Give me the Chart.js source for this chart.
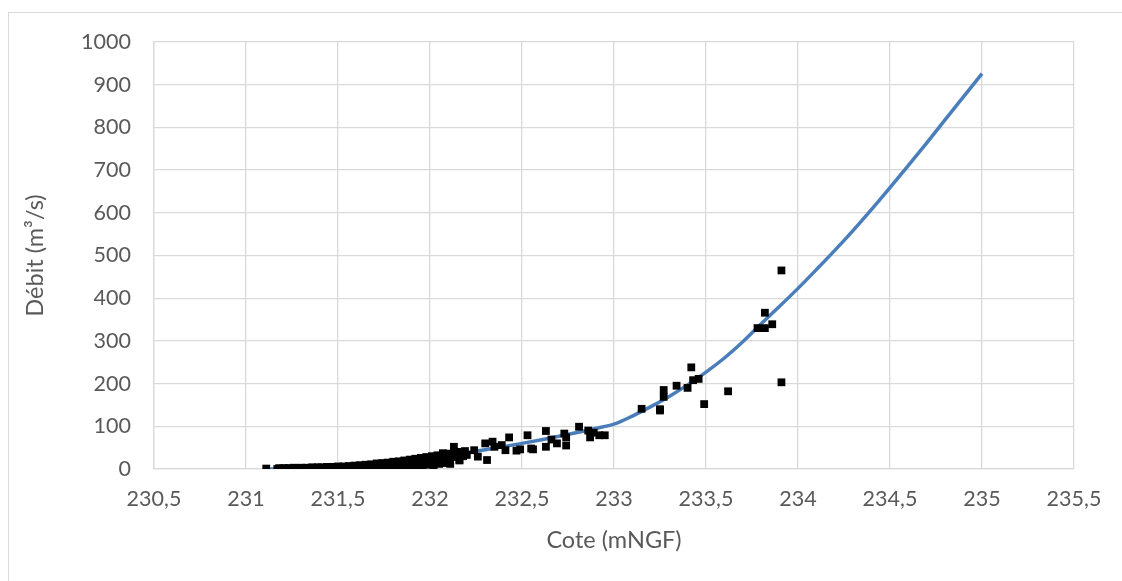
<!DOCTYPE html>
<html>
<head>
<meta charset="utf-8">
<script src="https://cdn.jsdelivr.net/npm/chart.js@4"></script>
<style>
  html, body { margin: 0; padding: 0; background: #fff; overflow: hidden; }
  #frame { position: absolute; left: 8px; top: 12px; width: 1300px; height: 700px; border: 1px solid #d9d9d9; }
  #wrap { position: absolute; left: 0; top: 0; width: 1122px; height: 581px; }
</style>
</head>
<body>
<div id="frame"></div>
<div id="wrap"><canvas id="myChart" width="1122" height="581"></canvas></div>
<script>
// fitted rating curve (cote -> debit)
const curveCote = [231.13, 231.2, 231.3, 231.4, 231.5, 231.6, 231.7, 231.8, 231.9, 232.0,
  232.1, 232.2, 232.3, 232.4, 232.5, 232.6, 232.7, 232.8, 232.9, 233.0,
  233.1, 233.2, 233.3, 233.4, 233.5, 233.6, 233.7, 233.8, 233.9, 234.0,
  234.1, 234.2, 234.3, 234.4, 234.5, 234.6, 234.7, 234.8, 234.9, 235.0];
const curveDebit = [0, 0.5, 1.7, 3.6, 6.1, 9.1, 12.7, 16.9, 21.5, 26.7,
  32.4, 38.6, 45.2, 52.4, 60, 68.1, 76.6, 85.5, 94.9, 105,
  124, 146, 170, 197, 227, 260, 298, 340, 381, 423,
  467, 512, 559, 608, 659, 711, 764, 818, 872, 926];

// measured points - dense low-water band
const bandCote = [231.11,
  231.17, 231.18, 231.19, 231.20, 231.21, 231.22, 231.23, 231.24, 231.25, 231.26,
  231.27, 231.28, 231.29, 231.30, 231.31, 231.32, 231.33, 231.34, 231.35, 231.36,
  231.37, 231.38, 231.39, 231.40, 231.41, 231.42, 231.43, 231.44, 231.45, 231.46,
  231.47, 231.48, 231.49, 231.50, 231.51, 231.52, 231.53, 231.54, 231.55, 231.56,
  231.57, 231.58, 231.59, 231.60, 231.61, 231.62, 231.63, 231.64, 231.65, 231.66,
  231.67, 231.68, 231.69, 231.70, 231.71, 231.72, 231.73, 231.74, 231.75, 231.76,
  231.77, 231.78, 231.79, 231.80, 231.81, 231.82, 231.83, 231.84, 231.85, 231.86,
  231.87, 231.88, 231.89, 231.90, 231.91, 231.92, 231.93, 231.94, 231.95, 231.96,
  231.97, 231.98, 231.99, 232.00, 232.01, 232.02, 232.03, 232.04, 232.05, 232.06,
  232.07, 232.08, 232.09, 232.10, 232.11, 232.12, 232.14, 232.16, 232.18, 232.19];
const bandDebit = [1,
  0, 2, 0, 1, 2, 0, 2, 1, 0, 3,
  1, 0, 2, 3, 0, 2, 3, 1, 0, 4,
  2, 0, 4, 1, 4, 0, 2, 5, 1, 3,
  5, 0, 3, 6, 1, 4, 6, 0, 3, 7,
  2, 5, 8, 1, 5, 9, 3, 6, 10, 1,
  6, 11, 3, 8, 13, 2, 8, 14, 4, 10,
  15, 3, 10, 17, 5, 12, 18, 3, 11, 20,
  6, 14, 22, 5, 15, 24, 8, 17, 26, 7,
  18, 28, 10, 20, 30, 9, 22, 32, 12, 24,
  35, 14, 26, 36, 12, 28, 38, 20, 30, 42];

// measured points - scattered upper part
const obsCote = [232.07, 232.1, 232.13, 232.15, 232.16, 232.2, 232.24, 232.26, 232.3, 232.31,
  232.34, 232.35, 232.39, 232.41, 232.43, 232.47, 232.49, 232.53, 232.55,
  232.56, 232.63, 232.63, 232.66, 232.69, 232.73, 232.74, 232.74, 232.81, 232.86,
  232.87, 232.89, 232.92, 232.95,
  233.15, 233.25, 233.25, 233.27, 233.27, 233.34, 233.4, 233.42, 233.43, 233.46,
  233.49, 233.62, 233.78, 233.82, 233.82, 233.86, 233.91, 233.91];
const obsDebit = [37, 29, 52, 40, 21, 33, 44, 29, 60, 21,
  64, 52, 56, 44, 74, 43, 46, 79, 48,
  46, 89, 52, 69, 60, 83, 74, 55, 99, 90,
  74, 85, 79, 79,
  141, 140, 137, 185, 169, 195, 190, 238, 208, 211,
  152, 182, 330, 366, 330, 339, 465, 203];

const fontFamily = 'Lato, "Open Sans", sans-serif';
const textColor = '#595959';
const gridColor = '#d9d9d9';

const ctx = document.getElementById('myChart').getContext('2d');

const allCote = bandCote.concat(obsCote);
const allDebit = bandDebit.concat(obsDebit);
const obsPoints = allCote.map((c, i) => ({ x: c, y: allDebit[i] }));
const curvePoints = curveCote.map((c, i) => ({ x: c, y: curveDebit[i] }));

const config = {
    type: 'scatter',
    data: {
        datasets: [{
            label: 'Mesures',
            data: obsPoints,
            pointStyle: 'rect',
            pointRadius: 5.5,
            backgroundColor: '#000',
            borderColor: '#000',
            borderWidth: 0,
            order: 0
        }, {
            label: 'Courbe',
            data: curvePoints,
            showLine: true,
            pointRadius: 0,
            borderColor: '#4a7ebb',
            borderWidth: 3.5,
            cubicInterpolationMode: 'monotone',
            order: 1
        }]
    },
    options: {
        responsive: false,
        animation: false,
        layout: { padding: { left: 0, top: 42, right: 48, bottom: 0 } },
        plugins: { legend: { display: false }, tooltip: { enabled: false } },
        scales: {
            x: {
                type: 'linear',
                min: 230.5,
                max: 235.5,
                afterFit: s => { s.height = 112; },
                ticks: {
                    stepSize: 0.5,
                    color: textColor,
                    font: { family: fontFamily, size: 21.5 },
                    padding: 17,
                    callback: v => String(Math.round(v * 10) / 10).replace('.', ',')
                },
                grid: { color: gridColor, lineWidth: 1.3, drawTicks: false },
                border: { color: gridColor, width: 1.3 },
                title: {
                    display: true,
                    text: 'Cote (mNGF)',
                    color: textColor,
                    font: { family: fontFamily, size: 23.5 },
                    padding: { top: 26, bottom: 26 }
                }
            },
            y: {
                min: 0,
                max: 1000,
                afterFit: s => { s.width = 154; },
                ticks: {
                    stepSize: 100,
                    color: textColor,
                    font: { family: fontFamily, size: 21.5 },
                    padding: 23,
                    callback: v => String(v)
                },
                grid: { color: gridColor, lineWidth: 1.3, drawTicks: false },
                border: { color: gridColor, width: 1.3 },
                title: {
                    display: true,
                    text: 'Débit (m³/s)',
                    color: textColor,
                    font: { family: fontFamily, size: 23.5 },
                    padding: { top: 21, bottom: 0 }
                }
            }
        }
    }
};

const chart = new Chart(ctx, config);
</script>
</body>
</html>
